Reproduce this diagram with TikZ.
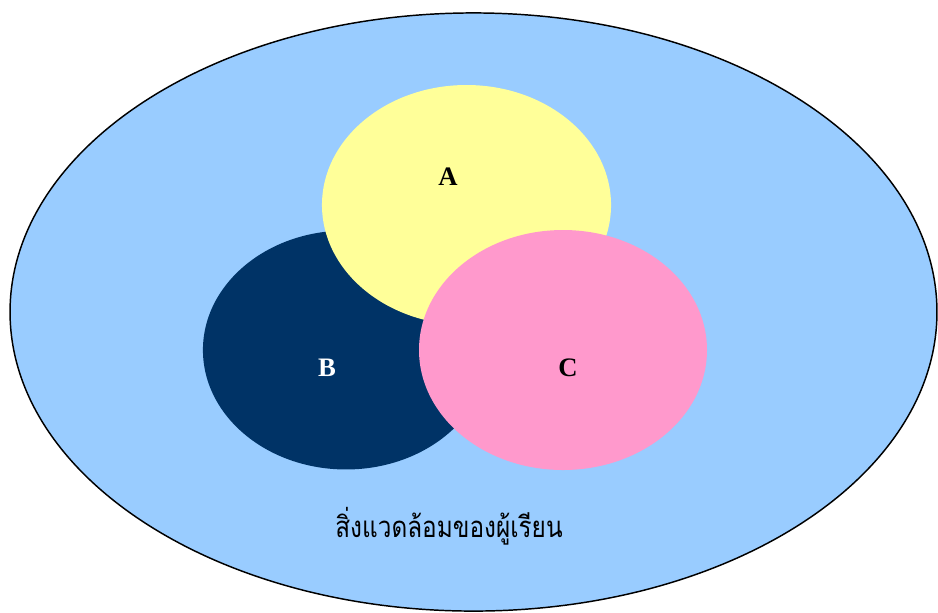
\documentclass[tikz,border=0pt]{standalone}
\usepackage{fontspec}
\setmainfont{Liberation Serif}
\newfontfamily\thaifont[Script=Thai]{Loma}
\usepackage{tikz}
\usetikzlibrary{backgrounds}
\definecolor{envblue}{HTML}{99CCFF}
\definecolor{setyellow}{HTML}{FFFF99}
\definecolor{setnavy}{HTML}{003366}
\definecolor{setpink}{HTML}{FF99CC}

\begin{document}
\begin{tikzpicture}[
    x=0.75pt, y=-0.75pt,
    setlabel/.style={font=\fontsize{20}{24}\selectfont\bfseries},
    envlabel/.style={font=\thaifont\fontsize{22}{26}\selectfont, anchor=base}
]
\useasboundingbox (0,0) rectangle (938,612);

	% outer set: the learner's environment
	\draw[fill=envblue, line width=1.1pt] (473.5,312) ellipse [x radius=347.6pt, y radius=224.3pt];

	% inner sets, B first, then A, then C on top
	\fill[setnavy] (346,350) ellipse [x radius=107.3pt, y radius=89.6pt];
	\fill[setyellow] (466.5,205) ellipse [x radius=108.4pt, y radius=90pt];
	\fill[setpink] (563,350) ellipse [x radius=108pt, y radius=90pt];

	\node[setlabel] (labA) at (448,177) {A};
	\node[setlabel, text=white] (labB) at (327,368) {B};
	\node[setlabel] (labC) at (568,368) {C};

\node[envlabel] (env) at (449,537) {\scalebox{0.83}[1]{สิ่งแวดล้อมของผู้เรียน}};
\end{tikzpicture}
\end{document}
